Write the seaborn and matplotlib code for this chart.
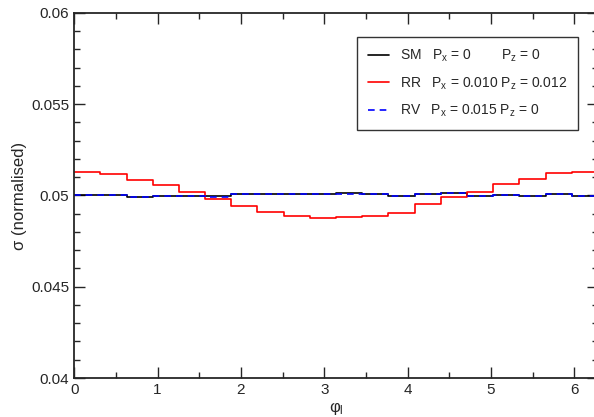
import numpy as np
import pandas as pd
import matplotlib
matplotlib.use("Agg")
import matplotlib.pyplot as plt
import seaborn as sns
from matplotlib.ticker import MultipleLocator, FormatStrFormatter

# 20 bins over 0..2pi
n_bins = 20
sm_vals = [0.05000, 0.05000, 0.04990, 0.04995, 0.04997, 0.04995, 0.05008, 0.05008, 0.05008, 0.05007,
           0.05012, 0.05007, 0.04995, 0.05010, 0.05015, 0.04995, 0.05000, 0.04995, 0.05008, 0.04998]
rr_vals = [0.05130, 0.05120, 0.05085, 0.05058, 0.05019, 0.04981, 0.04944, 0.04911, 0.04889, 0.04877,
           0.04884, 0.04889, 0.04906, 0.04952, 0.04992, 0.05018, 0.05063, 0.05090, 0.05122, 0.05127]
rv_vals = [0.05000, 0.05000, 0.04993, 0.04997, 0.04998, 0.04993, 0.05007, 0.05008, 0.05008, 0.05007,
           0.05010, 0.05007, 0.04996, 0.05010, 0.05012, 0.04996, 0.05000, 0.04996, 0.05007, 0.04999]

labels = {
    "SM": r"SM   P$_{\rm x}$ = 0        P$_{\rm z}$ = 0",
    "RR": r"RR   P$_{\rm x}$ = 0.010 P$_{\rm z}$ = 0.012",
    "RV": r"RV   P$_{\rm x}$ = 0.015 P$_{\rm z}$ = 0",
}

edges = np.linspace(0, 2 * np.pi, n_bins + 1)
rows = []
for key, vals in [("SM", sm_vals), ("RR", rr_vals), ("RV", rv_vals)]:
    ys = list(vals) + [vals[-1]]
    for x, y in zip(edges, ys):
        rows.append({"phi": x, "sigma": y, "model": labels[key]})
df = pd.DataFrame(rows)

sns.set_style("ticks")
plt.rcParams["font.family"] = ["Liberation Sans", "DejaVu Sans"]
plt.rcParams["mathtext.fontset"] = "custom"
plt.rcParams["mathtext.rm"] = "Liberation Sans"
plt.rcParams["mathtext.it"] = "Liberation Sans:italic"

fig = plt.figure(figsize=(5.94, 4.17), dpi=100)
ax = fig.add_axes([74.2 / 594, 39 / 417, 523.7 / 594, 365 / 417])

palette = {labels["SM"]: "black", labels["RR"]: "#ff0000", labels["RV"]: "#0000ff"}
dashes = {labels["SM"]: "", labels["RR"]: "", labels["RV"]: (4, 3)}
sns.lineplot(data=df, x="phi", y="sigma", hue="model", style="model",
             palette=palette, dashes=dashes, estimator=None, sort=False,
             drawstyle="steps-post", linewidth=1.2, ax=ax,
             hue_order=[labels["SM"], labels["RR"], labels["RV"]])

ax.set_xlim(0, 2 * np.pi)
ax.set_ylim(0.04, 0.06)
ax.xaxis.set_major_locator(MultipleLocator(1))
ax.xaxis.set_minor_locator(MultipleLocator(0.5))
ax.yaxis.set_major_locator(MultipleLocator(0.005))
ax.yaxis.set_minor_locator(MultipleLocator(0.001))
ax.yaxis.set_major_formatter(FormatStrFormatter("%g"))
ax.tick_params(which="both", direction="in", top=True, right=True, labelsize=11, width=1)
ax.tick_params(which="major", length=8)
ax.tick_params(which="minor", length=4)
for s in ax.spines.values():
    s.set_linewidth(1.3)

ax.set_xlabel(r"φ$_{\rm l}$", fontsize=12, labelpad=2)
ax.set_ylabel("σ (normalised)", fontsize=12, labelpad=3)

leg = ax.legend(loc="upper right", bbox_to_anchor=(0.962, 0.934), fontsize=10,
                frameon=True, fancybox=False, edgecolor="black", handlelength=1.5,
                borderpad=0.78, labelspacing=0.78, handletextpad=0.8, borderaxespad=0)
leg.get_frame().set_linewidth(1.0)

fig.savefig("out.png", dpi=100)
